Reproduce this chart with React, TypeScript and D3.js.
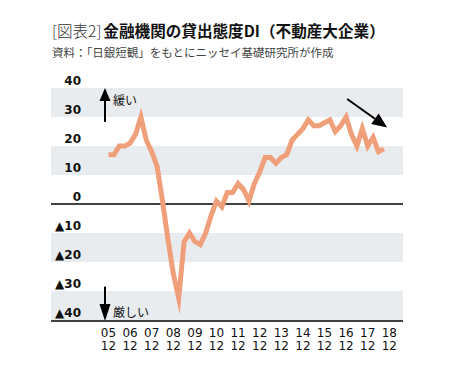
import React from "react";
import * as d3 from "d3";

// quarterly, from 2005/12 to 2018/09
const diValues = [
  17, 17, 20, 20, 21, 24, 30, 22, 18, 13, 1, -12, -24, -32.5, -13, -10, -13, -14,
  -10, -4, 1, -1, 4, 4, 7, 5, 1, 7, 11, 16, 16, 14, 16, 17, 22, 24, 26, 29, 27,
  27, 28, 29, 25, 27, 30, 24, 20, 26, 20, 23, 18, 19,
];
const yearLabels = ["05", "06", "07", "08", "09", "10", "11", "12", "13", "14", "15", "16", "17", "18"];
const monthLabel = "12";
const yTicks = [40, 30, 20, 10, 0, -10, -20, -30, -40];
const bands = [[30, 40], [10, 20], [-20, -10], [-40, -30]];

const W = 468;
const H = 368;

const x = d3.scaleLinear().domain([0, 52]).range([108.5, 389.3]);
const y = d3.scaleLinear().domain([-40, 40]).range([320, 88]);

const plotLeft = 51;
const plotRight = 403;

const tickLabel = (v: number) => (v < 0 ? "▲" + Math.abs(v) : String(v));

export default function App() {
  const line = d3
    .line<number>()
    .x((_, i) => x(i))
    .y((d) => y(d));

  const upX = x(-0.65);
  const diagFrom = [x(44.2), y(36.2)];
  const diagTo = [x(51.6), y(26.4)];
  const ang = Math.atan2(diagTo[1] - diagFrom[1], diagTo[0] - diagFrom[0]);
  const headLen = 15;
  const headW = 6.5;
  const hb = [diagTo[0] - headLen * Math.cos(ang), diagTo[1] - headLen * Math.sin(ang)];
  const nx = -Math.sin(ang);
  const ny = Math.cos(ang);

  return (
    <svg
      width={W}
      height={H}
      style={{ position: "absolute", left: 0, top: 0, background: "#fff" }}
    >
      {/* title */}
      <text x={52} y={37} fontFamily="'Noto Sans CJK JP'" fontSize={15.6} fill="#111">
        <tspan fontWeight={300} fill="#333">[図表2]</tspan>
        <tspan dx={2} fontWeight={700}>金融機関の貸出態度DI（不動産大企業）</tspan>
      </text>
      <text x={52} y={57} fontFamily="'Noto Sans CJK JP'" fontSize={11.5} fill="#444">
        資料：「日銀短観」をもとにニッセイ基礎研究所が作成
      </text>

      {/* bands */}
      {bands.map(([a, b], i) => (
        <rect
          key={i}
          x={plotLeft}
          y={y(b)}
          width={plotRight - plotLeft}
          height={y(a) - y(b)}
          fill="#e9ecef"
        />
      ))}
      <line x1={plotLeft} x2={plotRight} y1={y(0)} y2={y(0)} stroke="#000" strokeWidth={1.3} />
      <line x1={plotLeft} x2={plotRight} y1={y(-40) + 1} y2={y(-40) + 1} stroke="#000" strokeWidth={1.3} />

      {/* y labels */}
      {yTicks.map((v) => (
        <text
          key={v}
          x={81}
          y={y(v) - 3}
          textAnchor="end"
          fontFamily="'DejaVu Sans'"
          fontWeight="bold"
          fontSize={12}
          fill="#111"
        >
          {tickLabel(v)}
        </text>
      ))}

      {/* x labels */}
      {yearLabels.map((yr, i) => (
        <g key={yr} fontFamily="'DejaVu Sans'" fontSize={12} fill="#111" textAnchor="middle">
          <text x={x(i * 4)} y={337}>{yr}</text>
          <text x={x(i * 4)} y={350}>{monthLabel}</text>
        </g>
      ))}

      {/* series */}
      <path
        d={line(diValues) || ""}
        fill="none"
        stroke="#f09f7b"
        strokeWidth={5}
        strokeLinejoin="miter"
        strokeMiterlimit={10}
      />

      {/* up arrow */}
      <line x1={upX} x2={upX} y1={y(28.3)} y2={y(36)} stroke="#000" strokeWidth={2} />
      <path
        d={`M${upX},${y(40)} L${upX - 5.5},${y(35.5)} L${upX + 5.5},${y(35.5)} Z`}
        fill="#000"
      />
      <text x={113} y={y(35.7) + 5} fontFamily="'Noto Sans CJK JP'" fontSize={12} fill="#111">
        緩い
      </text>

      {/* down arrow */}
      <line x1={upX} x2={upX} y1={y(-28.5)} y2={y(-35)} stroke="#000" strokeWidth={2} />
      <path
        d={`M${upX},${y(-40) + 1} L${upX - 5.5},${y(-34.5)} L${upX + 5.5},${y(-34.5)} Z`}
        fill="#000"
      />
      <text x={113} y={y(-37.2) + 5} fontFamily="'Noto Sans CJK JP'" fontSize={12} fill="#111">
        厳しい
      </text>

      {/* diagonal arrow */}
      <line x1={diagFrom[0]} y1={diagFrom[1]} x2={hb[0]} y2={hb[1]} stroke="#000" strokeWidth={2} />
      <path
        d={`M${diagTo[0]},${diagTo[1]} L${hb[0] + nx * headW},${hb[1] + ny * headW} L${hb[0] - nx * headW},${hb[1] - ny * headW} Z`}
        fill="#000"
      />
    </svg>
  );
}
